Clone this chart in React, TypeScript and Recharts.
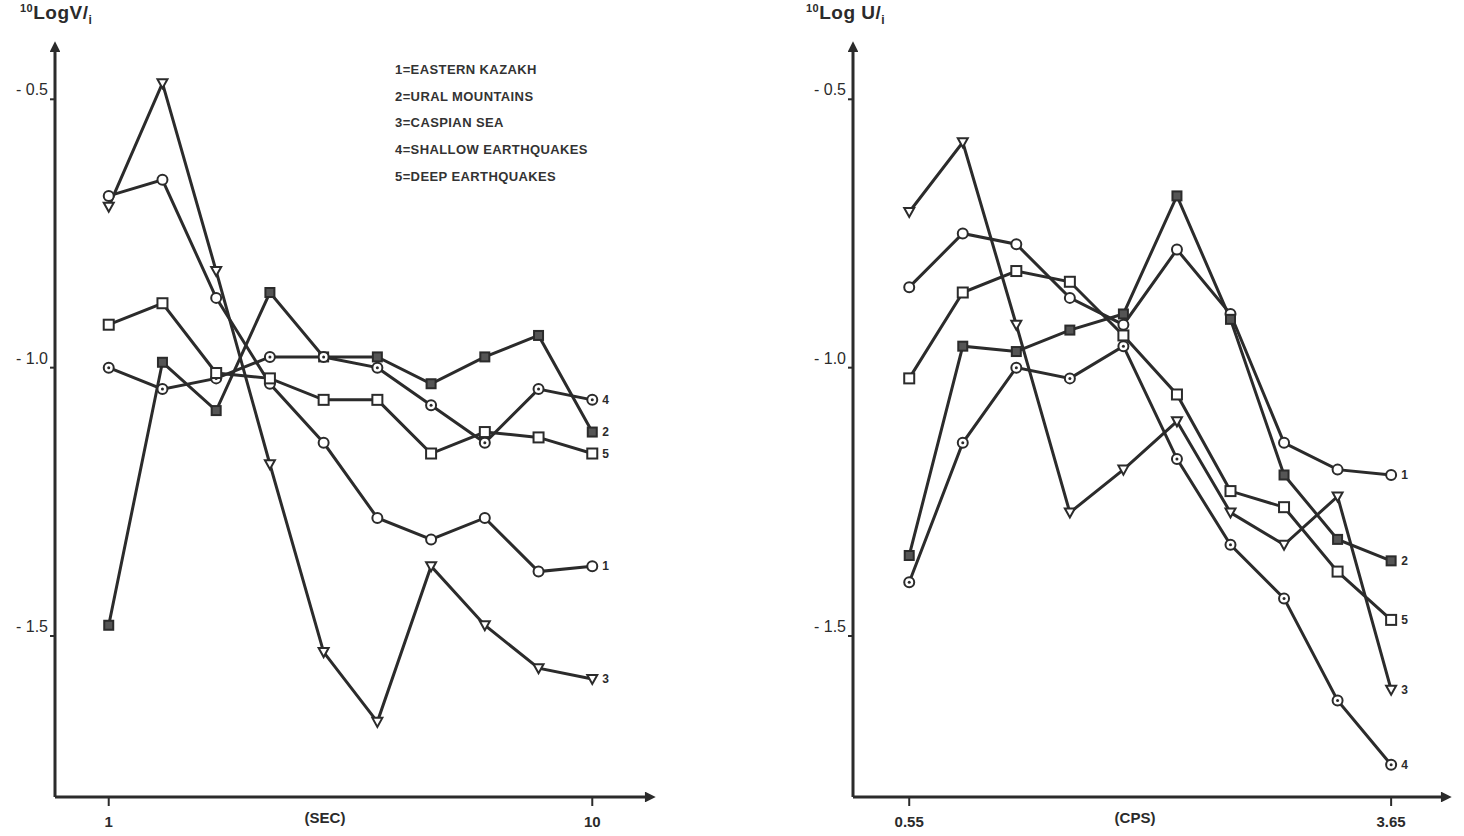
import React from 'react';
import { LineChart, Line, XAxis, YAxis } from 'recharts';

const INK = '#2b2b2b';
const FONT = '"Liberation Sans", Arial, sans-serif';

// x positions: ten equally spaced readings per panel
const periodSec = [1, 2, 3, 4, 5, 6, 7, 8, 9, 10];
const cpsStep = [1, 2, 3, 4, 5, 6, 7, 8, 9, 10];
const secTickText = ['1', '10'];
const cpsTickText = ['0.55', '3.65'];
const edgeTicks = [1, 10];
const yTicks = [-0.5, -1.0, -1.5];

const regionNames = ['EASTERN KAZAKH', 'URAL MOUNTAINS', 'CASPIAN SEA', 'SHALLOW EARTHQUAKES', 'DEEP EARTHQUAKES'];

// left panel (SEC)
const kazakhSec = [-0.68, -0.65, -0.87, -1.03, -1.14, -1.28, -1.32, -1.28, -1.38, -1.37];
const uralSec = [-1.48, -0.99, -1.08, -0.86, -0.98, -0.98, -1.03, -0.98, -0.94, -1.12];
const caspianSec = [-0.70, -0.47, -0.82, -1.18, -1.53, -1.66, -1.37, -1.48, -1.56, -1.58];
const shallowSec = [-1.0, -1.04, -1.02, -0.98, -0.98, -1.0, -1.07, -1.14, -1.04, -1.06];
const deepSec = [-0.92, -0.88, -1.01, -1.02, -1.06, -1.06, -1.16, -1.12, -1.13, -1.16];

// right panel (CPS)
const kazakhCps = [-0.85, -0.75, -0.77, -0.87, -0.92, -0.78, -0.9, -1.14, -1.19, -1.2];
const uralCps = [-1.35, -0.96, -0.97, -0.93, -0.9, -0.68, -0.91, -1.2, -1.32, -1.36];
const caspianCps = [-0.71, -0.58, -0.92, -1.27, -1.19, -1.1, -1.27, -1.33, -1.24, -1.6];
const shallowCps = [-1.4, -1.14, -1.0, -1.02, -0.96, -1.17, -1.33, -1.43, -1.62, -1.74];
const deepCps = [-1.02, -0.86, -0.82, -0.84, -0.94, -1.05, -1.23, -1.26, -1.38, -1.47];

const secData = periodSec.map((x, i) => ({
  x,
  s1: kazakhSec[i],
  s2: uralSec[i],
  s3: caspianSec[i],
  s4: shallowSec[i],
  s5: deepSec[i],
}));

const cpsData = cpsStep.map((x, i) => ({
  x,
  s1: kazakhCps[i],
  s2: uralCps[i],
  s3: caspianCps[i],
  s4: shallowCps[i],
  s5: deepCps[i],
}));

const markerShapes = ['circle', 'filled', 'triangle', 'dotcircle', 'square'];

function Marker({ shape, cx, cy }: { shape: string; cx: number; cy: number }) {
  if (cx == null || cy == null) return null;
  const common = { stroke: INK, strokeWidth: 2 };
  if (shape === 'square') return <rect x={cx - 5} y={cy - 5} width={10} height={10} fill="#fff" {...common} />;
  if (shape === 'filled') return <rect x={cx - 4.5} y={cy - 4.5} width={9} height={9} fill="#555" {...common} />;
  if (shape === 'triangle')
    return <path d={`M${cx - 5},${cy - 4} L${cx + 5},${cy - 4} L${cx},${cy + 5} Z`} fill="#fff" {...common} />;
  if (shape === 'dotcircle')
    return (
      <g>
        <circle cx={cx} cy={cy} r={5} fill="#fff" {...common} />
        <circle cx={cx} cy={cy} r={1.5} fill={INK} />
      </g>
    );
  return <circle cx={cx} cy={cy} r={5} fill="#fff" {...common} />;
}

function XTick({ x, y, payload, labels }: any) {
  const idx = edgeTicks.indexOf(payload.value);
  return (
    <text x={x} y={y + 19} textAnchor="middle" fill={INK} fontSize={15} fontWeight="bold" fontFamily={FONT}>
      {labels[idx]}
    </text>
  );
}

function YTick({ x, y, payload }: any) {
  const v = payload.value as number;
  return (
    <text x={x} y={y - 4} textAnchor="end" fill={INK} fontSize={16} fontFamily={FONT}>
      {`- ${Math.abs(v).toFixed(1)}`}
    </text>
  );
}

function Panel({ data, left, width, xDomain, tickText }: any) {
  return (
    <LineChart
      width={width}
      height={836}
      data={data}
      margin={{ top: 51, right: 24, bottom: 0, left: 0 }}
      style={{ position: 'absolute', left, top: 0 }}
    >
      <XAxis
        type="number"
        dataKey="x"
        domain={xDomain}
        ticks={edgeTicks}
        height={39}
        tickSize={9}
        tickMargin={2}
        tickLine={{ stroke: INK, strokeWidth: 2 }}
        axisLine={{ stroke: INK, strokeWidth: 3, markerEnd: 'url(#axisArrow)' }}
        tick={<XTick labels={tickText} />}
      />
      <YAxis
        type="number"
        domain={[-1.8, -0.41]}
        ticks={yTicks}
        width={55}
        tickSize={5}
        tickMargin={2}
        tickLine={{ stroke: INK, strokeWidth: 2 }}
        axisLine={{ stroke: INK, strokeWidth: 3, markerStart: 'url(#axisArrow)' }}
        tick={<YTick />}
      />
      {['s1', 's2', 's3', 's4', 's5'].map((key, k) => (
        <Line
          key={key}
          type="linear"
          dataKey={key}
          stroke={INK}
          strokeWidth={3}
          isAnimationActive={false}
          activeDot={false}
          dot={(p: any) => <Marker key={`${key}-${p.index}`} shape={markerShapes[k]} cx={p.cx} cy={p.cy} />}
          label={(p: any) =>
            p.index === data.length - 1 ? (
              <text
                key={`${key}-lab`}
                x={p.x + 10}
                y={p.y + 4}
                fill={INK}
                fontSize={12}
                fontWeight="bold"
                fontFamily={FONT}
              >
                {k + 1}
              </text>
            ) : null
          }
        />
      ))}
    </LineChart>
  );
}

export default function App() {
  const titleStyle: React.CSSProperties = {
    position: 'absolute',
    top: 2,
    fontFamily: FONT,
    fontWeight: 'bold',
    fontSize: 19,
    color: INK,
    letterSpacing: 0.5,
  };
  const axisTitle: React.CSSProperties = {
    position: 'absolute',
    top: 809,
    fontFamily: FONT,
    fontWeight: 'bold',
    fontSize: 15,
    color: INK,
    transform: 'translateX(-50%)',
  };
  return (
    <div style={{ position: 'fixed', left: 0, top: 0, width: 1464, height: 836, background: '#fff', overflow: 'hidden' }}>
      <svg width={0} height={0} style={{ position: 'absolute' }}>
        <defs>
          <marker
            id="axisArrow"
            viewBox="0 0 10 10"
            refX={1}
            refY={5}
            markerWidth={4.5}
            markerHeight={3.6}
            orient="auto-start-reverse"
          >
            <path d="M0,0 L10,5 L0,10 Z" fill={INK} />
          </marker>
        </defs>
      </svg>

      <Panel data={secData} left={0} width={670} xDomain={[0, 11]} tickText={secTickText} />
      <Panel data={cpsData} left={798} width={668} xDomain={[-0.05, 10.95]} tickText={cpsTickText} />

      <div style={{ ...titleStyle, left: 20 }}>
        <sup style={{ fontSize: 11 }}>10</sup>LogV/<sub style={{ fontSize: 12 }}>i</sub>
      </div>
      <div style={{ ...titleStyle, left: 806 }}>
        <sup style={{ fontSize: 11 }}>10</sup>Log U/<sub style={{ fontSize: 12 }}>i</sub>
      </div>

      <div style={{ ...axisTitle, left: 325 }}>(SEC)</div>
      <div style={{ ...axisTitle, left: 1135 }}>(CPS)</div>

      <div
        style={{
          position: 'absolute',
          left: 395,
          top: 57,
          fontFamily: FONT,
          fontWeight: 'bold',
          fontSize: 13,
          lineHeight: '26.7px',
          color: '#333',
          letterSpacing: 0.4,
        }}
      >
        {regionNames.map((name, i) => (
          <div key={name}>{`${i + 1}=${name}`}</div>
        ))}
      </div>
    </div>
  );
}
